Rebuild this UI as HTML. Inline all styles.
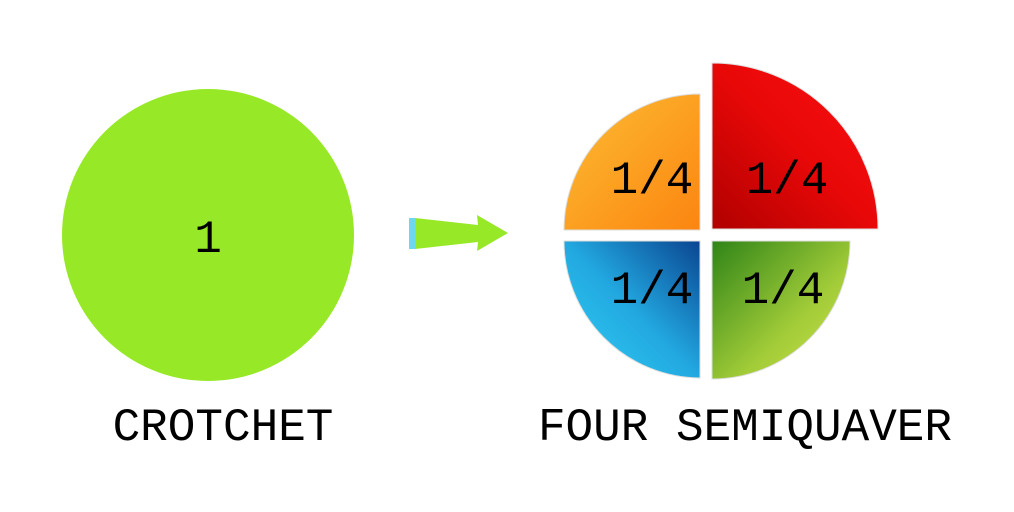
<!DOCTYPE html>
<html><head><meta charset="utf-8"><style>
html,body{margin:0;padding:0;background:#fff;}
svg{display:block}
text{font-family:"Liberation Mono","DejaVu Sans Mono",monospace;fill:#000}
</style></head><body>
<svg width="1014" height="512" viewBox="0 0 1014 512" xmlns="http://www.w3.org/2000/svg">
<defs>
<linearGradient id="go" x1="0" y1="0" x2="1" y2="1"><stop offset="0" stop-color="#fdbd35"/><stop offset="1" stop-color="#fb8510"/></linearGradient>
<linearGradient id="gr" x1="1" y1="0" x2="0" y2="1"><stop offset="0" stop-color="#fb1010"/><stop offset="0.5" stop-color="#e80808"/><stop offset="1" stop-color="#b00000"/></linearGradient>
<linearGradient id="gb" x1="0" y1="1" x2="1" y2="0"><stop offset="0" stop-color="#30d0f4"/><stop offset="0.5" stop-color="#22a8e0"/><stop offset="1" stop-color="#0a4590"/></linearGradient>
<linearGradient id="gg" x1="0" y1="0" x2="1" y2="1"><stop offset="0" stop-color="#2f8418"/><stop offset="0.6" stop-color="#a2cc38"/><stop offset="1" stop-color="#cfe44a"/></linearGradient>
</defs>
<circle cx="208" cy="235" r="146" fill="#97e827"/>
<text x="208" y="252" font-size="46" text-anchor="middle">1</text>
<rect x="409" y="218" width="7" height="31" fill="#6fd6f0"/>
<polygon points="415,218 478,225 477,215 508,233 477,251 478,242 415,249" fill="#97e827"/>
<path d="M700,230 L564,230 A136,136 0 0 1 700,94 Z" fill="url(#go)" stroke="#ddd" stroke-width="1"/>
<path d="M712,229 L712,63 A166,166 0 0 1 878,229 Z" fill="url(#gr)" stroke="#ddd" stroke-width="1"/>
<path d="M700,241 L700,378 A137,137 0 0 1 564,241 Z" fill="url(#gb)" stroke="#ddd" stroke-width="1"/>
<path d="M712,241 L850,241 A138,138 0 0 1 712,379 Z" fill="url(#gg)" stroke="#ddd" stroke-width="1"/>
<text x="652" y="193" font-size="46" text-anchor="middle">1/4</text>
<text x="787" y="193" font-size="46" text-anchor="middle">1/4</text>
<text x="652" y="303" font-size="46" text-anchor="middle">1/4</text>
<text x="783" y="303" font-size="46" text-anchor="middle">1/4</text>
<text x="223" y="440" font-size="46" text-anchor="middle">CROTCHET</text>
<text x="745" y="440" font-size="46" text-anchor="middle">FOUR SEMIQUAVER</text>
</svg>
</body></html>
